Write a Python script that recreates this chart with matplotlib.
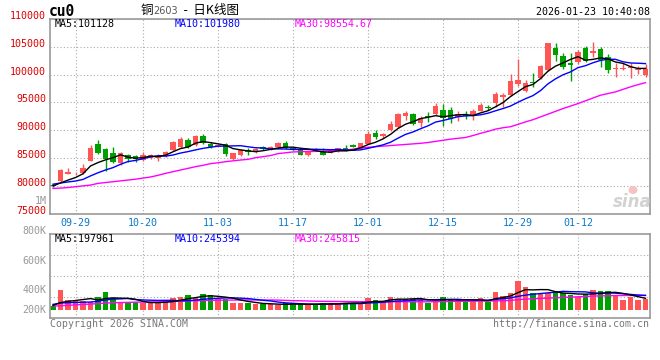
import numpy as np
import pandas as pd
import matplotlib
matplotlib.use("Agg")
import matplotlib.pyplot as plt
from matplotlib.transforms import ScaledTranslation
from matplotlib.patches import Ellipse

# trading days shown (SHFE, National Day + New Year closed)
holidays = ["2025-10-01", "2025-10-02", "2025-10-03", "2025-10-06",
            "2025-10-07", "2025-10-08", "2026-01-01", "2026-01-02"]
days = pd.bdate_range("2025-09-24", "2026-01-23", freq="C", holidays=holidays)
dates = [d.strftime("%m-%d") for d in days]

opens = [80200, 80900, 82200, 82250, 82250, 84500, 87500, 86700, 85950, 84050,
         85550, 85300, 84650, 85050, 85000, 85370, 86450, 86950, 88240, 87350,
         89000, 87600, 87200, 87520, 84830, 85600, 86500, 86100, 87050, 86500,
         86950, 87765, 86900, 86400, 85620, 86620, 86150, 85970, 86200, 86850,
         87300, 86700, 87520, 89560, 88960, 90040, 90520, 92560, 92920, 91360,
         92560, 92920, 93640, 93640, 92440, 92740, 92740, 93520, 94120, 94840,
         96040, 96340, 98310, 97120, 98730, 99450, 100830, 104720, 103350, 102030,
         102210, 104720, 103800, 104600, 103100, 101100, 101100, 101130, 100830, 99930]
highs = [80350, 83050, 83300, 82450, 84000, 87300, 88250, 86900, 86950, 86100,
         85650, 85550, 86150, 85800, 85700, 86350, 88150, 88850, 88550, 89200,
         89400, 87900, 87500, 87650, 85950, 86600, 86900, 86750, 87250, 87150,
         87950, 88100, 87000, 86500, 86400, 86870, 86870, 86450, 86900, 87350,
         87450, 87750, 89920, 90040, 89560, 91720, 93160, 93460, 93160, 92560,
         93340, 94960, 94700, 94150, 93400, 93500, 93760, 94960, 94540, 96940,
         96760, 100050, 102800, 99030, 100230, 101730, 105750, 105620, 103830, 103830,
         104430, 105150, 105920, 105020, 103710, 102150, 102150, 102030, 101550, 101850]
lows = [79750, 80750, 82100, 81950, 82100, 84400, 85800, 82700, 84050, 83700,
        84250, 84350, 84450, 84900, 84530, 85200, 86300, 86800, 86850, 87200,
        87550, 86850, 87100, 85370, 84700, 85450, 85600, 85900, 86450, 86400,
        86850, 86700, 86500, 85550, 85450, 86300, 85550, 85900, 86100, 86250,
        86950, 86600, 87450, 88480, 88540, 89950, 90400, 91840, 91000, 90640,
        91540, 92800, 90850, 91350, 91700, 91960, 91840, 93400, 93640, 94120,
        94120, 96200, 98000, 96940, 97700, 99300, 100700, 102500, 100950, 98910,
        101850, 102330, 103100, 101310, 100230, 99630, 100830, 99330, 100050, 99510]
closes = [79900, 82850, 82450, 82400, 83300, 86900, 85900, 84900, 84350, 85850,
          84850, 84900, 85550, 85550, 85450, 86150, 87950, 88420, 86950, 88900,
          87650, 86950, 87350, 85730, 85850, 86500, 86030, 86650, 86570, 87050,
          87765, 86800, 86620, 85620, 86300, 86390, 85620, 86350, 86780, 86350,
          87050, 87640, 89320, 88840, 89380, 91120, 92920, 93160, 91120, 92140,
          92320, 94360, 92200, 92100, 92920, 92560, 93460, 94540, 94060, 96460,
          96340, 98910, 99030, 98430, 98500, 101550, 105620, 103530, 101310, 101670,
          104000, 102450, 104300, 102600, 100810, 101200, 101200, 101400, 100900, 100940]
volumes = [66000, 330000, 178000, 157000, 157000, 143000, 218000, 297000, 211000, 132000,
           127000, 145000, 120000, 115000, 127000, 157000, 203000, 226000, 248000, 210000,
           264000, 248000, 182000, 182000, 127000, 115000, 127000, 99000, 99000, 99000,
           83000, 115000, 115000, 99000, 83000, 91000, 127000, 124000, 110000, 124000,
           115000, 127000, 195000, 162000, 143000, 226000, 193000, 193000, 193000, 168000,
           124000, 157000, 226000, 190000, 143000, 143000, 162000, 206000, 143000, 305000,
           239000, 285000, 487000, 388000, 285000, 264000, 280000, 318000, 280000, 248000,
           220000, 266000, 338000, 320135, 320000, 239400, 176800, 215300, 177100, 181205]

# closes / volumes just before the window (needed for MA5 / MA10 start)
pre_close = [80700, 80500, 80800, 80400, 80600, 80200, 79900, 80100, 79900]
pre_vol = [110000, 125000, 105000, 120000, 115000, 90000, 80000, 85000, 78000]

# MA30 lines
ma30 = [79550, 79600, 79700, 79850, 80000, 80150, 80450, 80600, 80750, 80900,
        81050, 81200, 81400, 81600, 81900, 82250, 82550, 82850, 83150, 83450,
        83700, 84000, 84150, 84350, 84500, 84650, 84770, 85070, 85250, 85450,
        85800, 85950, 86100, 86150, 86180, 86200, 86250, 86330, 86400, 86450,
        86600, 86850, 86930, 87050, 87150, 87250, 87350, 87450, 87550, 87650,
        87800, 88000, 88200, 88400, 88550, 88700, 89050, 89450, 89800, 90200,
        90450, 90640, 91050, 91500, 91900, 92400, 92900, 93400, 93900, 94350,
        94800, 95300, 95800, 96300, 96600, 96900, 97350, 97800, 98200, 98554.67]
vol_ma30 = [70000, 75000, 82000, 90000, 97000, 103000, 110000, 118000, 125000, 128000,
            131000, 134000, 136000, 138000, 140000, 143000, 146000, 150000, 154000, 157000,
            161000, 164000, 166000, 168000, 169000, 170000, 170000, 170000, 170000, 170000,
            168000, 164000, 160000, 157000, 153000, 150000, 148000, 146000, 145000, 144000,
            143000, 142000, 142000, 141000, 141000, 141000, 141000, 141000, 141000, 140000,
            140000, 142000, 144000, 146000, 148000, 149000, 150000, 152000, 153000, 156000,
            158000, 164000, 175000, 184000, 190000, 196000, 201000, 207000, 212000, 217000,
            223000, 228000, 234000, 238000, 241000, 243000, 244000, 245000, 245500, 245815]

tick_dates = ["09-29", "10-20", "11-03", "11-17", "12-01", "12-15", "12-29", "01-12"]
price_ticks = list(range(75000, 110001, 5000))
vol_labels = ["800K", "600K", "400K", "200K"]

# ---- styles ----
RED = "#ff5555"
GREEN = "#009f00"
GRID = "#aaaaaa"
BORDER = "#9a9a9a"
MONO = "DejaVu Sans Mono"
CJK = ["Noto Sans CJK SC", "DejaVu Sans"]

W, H = 660, 360


def fx(x):
    return x / W


def fy(y):
    return 1 - y / H


o = np.array(opens, float)
h = np.array(highs, float)
l = np.array(lows, float)
c = np.array(closes, float)
v = np.array(volumes, float)
x = np.arange(len(c))
col = np.where(c >= o, RED, GREEN)

cs = pd.Series(pre_close + closes, dtype=float)
ma5 = cs.rolling(5).mean().values[len(pre_close):]
ma10 = cs.rolling(10).mean().values[len(pre_close):]
vs = pd.Series(pre_vol + volumes, dtype=float)
vma5 = vs.rolling(5).mean().values[len(pre_vol):]
vma10 = vs.rolling(10).mean().values[len(pre_vol):]

tick_idx = [dates.index(d) for d in tick_dates]

fig = plt.figure(figsize=(6.6, 3.6), dpi=100)
fig.patch.set_facecolor("white")
ax1 = fig.add_axes([fx(50), fy(213.7), fx(600), 194.7 / H])
ax2 = fig.add_axes([fx(50), fy(317.5), fx(600), 83.2 / H])

for ax in (ax1, ax2):
    ax.set_xlim(-0.4, 79.6)
    ax.set_axisbelow(True)
    for s in ax.spines.values():
        s.set_color(BORDER)
        s.set_linewidth(1.2)
    ax.grid(True, linestyle=(0, (1, 2)), color=GRID, linewidth=0.8)
    ax.tick_params(length=0, labelleft=False)

# candles
ax1.set_ylim(75000, 110000)
ax1.set_yticks(price_ticks)
ax1.vlines(x, l, h, colors=col, linewidth=1)
body = np.maximum(np.abs(c - o), 150)
ax1.bar(x, body, bottom=np.minimum(o, c), width=0.74, color=col, linewidth=0)
ax1.plot(x, ma30, color="#ff00ff", lw=1)
ax1.plot(x, ma10, color="#0000ff", lw=1)
ax1.plot(x, ma5, color="black", lw=1)

ax1.set_xticks(tick_idx)
ax1.set_xticklabels(tick_dates, fontsize=7.2, family=MONO, color="#0a78c8")
ax1.tick_params(axis="x", pad=3)

lab_tr = ax1.get_yaxis_transform() + ScaledTranslation(-0.04, 0.03, fig.dpi_scale_trans)
for p in price_ticks:
    ax1.text(0, p, str(p), transform=lab_tr, ha="right", va="center",
             fontsize=7.2, family=MONO, color="#dd0000", clip_on=False)
fig.text(fx(46.5), fy(201), "1M", ha="right", va="center", fontsize=7.2,
         family=MONO, color="#999999")

# volume
vlo, vhi = -118800, 1254000
ax2.set_ylim(vlo, vhi)
ax2.bar(x, v, width=0.76, color=col, linewidth=0)
ax2.plot(x, vol_ma30, color="#ff00ff", lw=1)
ax2.plot(x, vma10, color="#0000ff", lw=1)
ax2.plot(x, vma5, color="black", lw=1)
ax2.set_yticks([vlo + f * (vhi - vlo) for f in (0.25, 0.5, 0.75)])
ax2.set_xticks(tick_idx)
ax2.tick_params(labelbottom=False)
for lab, yy in zip(vol_labels, [231, 261, 290, 310]):
    fig.text(fx(46.5), fy(yy), lab, ha="right", va="center", fontsize=7.2,
             family=MONO, color="#999999")

# MA readouts
for ypx, vals, fmt in ((24, (ma5[-1], ma10[-1], ma30[-1]), ("{:.0f}", "{:.0f}", "{:.2f}")),
                       (238.5, (vma5[-1], vma10[-1], vol_ma30[-1]), ("{:.0f}", "{:.0f}", "{:.0f}"))):
    for xpx, name, val, f, colr in zip((54.5, 175, 295), ("MA5", "MA10", "MA30"), vals, fmt,
                                       ("black", "#0000ff", "#ff00ff")):
        fig.text(fx(xpx), fy(ypx), name + ":" + f.format(val), va="center",
                 fontsize=7.2, family=MONO, color=colr)

# header
fig.text(fx(49), fy(12), "cu0", va="center", fontsize=10.5, family=MONO,
         weight="bold", color="black")
t1 = fig.text(fx(141), fy(10.5), "铜", va="center", fontsize=9, family=CJK, color="black")
t2 = ax1.annotate("2603", xy=(1, 0.5), xycoords=t1, va="center", fontsize=7,
                  family="DejaVu Sans", color="#555555", annotation_clip=False)
ax1.annotate("  -  日K线图", xy=(1, 0.5), xycoords=t2, va="center", fontsize=9,
             family=CJK, color="black", annotation_clip=False)
fig.text(fx(649.5), fy(12), "2026-01-23 10:40:08", ha="right", va="center",
         fontsize=7.2, family=MONO, color="black")

# footer
fig.text(fx(50), fy(324), "Copyright 2026 SINA.COM", va="center", fontsize=7.1,
         family=MONO, color="#777777")
fig.text(fx(649.5), fy(324), "http://finance.sina.com.cn", ha="right", va="center",
         fontsize=7.1, family=MONO, color="#777777")

# sina watermark
fig.text(fx(652), fy(202), "sina", ha="right", va="center", fontsize=12,
         style="italic", weight="bold", family="DejaVu Sans", color="#d2d2d2")
fig.add_artist(Ellipse((fx(633), fy(190)), 9 / W, 8 / H, transform=fig.transFigure,
                       facecolor="#f6c2c2", edgecolor="none"))

fig.savefig("out.png", dpi=100)
